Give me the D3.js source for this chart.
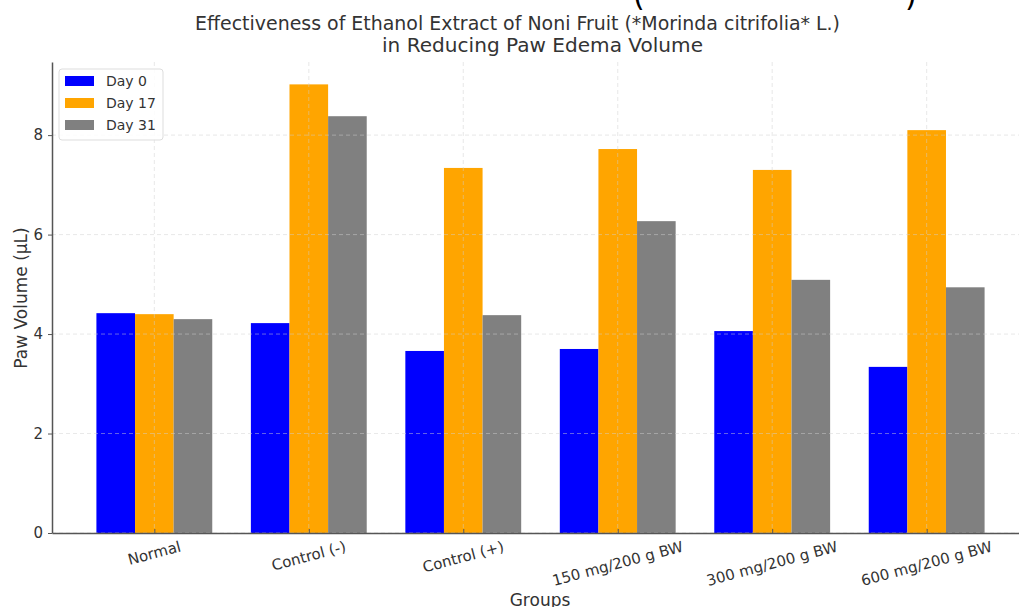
<!DOCTYPE html>
<html><head><meta charset="utf-8">
<script src="https://cdn.jsdelivr.net/npm/d3@7"></script>
<style>body{margin:0;background:#fff}svg{display:block;font-family:"DejaVu Sans",sans-serif}</style>
</head><body><svg id="c" width="1019" height="607"></svg>
<script>
const categories = ["Normal","Control (-)","Control (+)","150 mg/200 g BW","300 mg/200 g BW","600 mg/200 g BW"];
const seriesNames = ["Day 0","Day 17","Day 31"];
const day0 = [4.42,4.22,3.66,3.70,4.06,3.34];
const day17 = [4.40,9.02,7.34,7.72,7.30,8.10];
const day31 = [4.30,8.38,4.38,6.27,5.09,4.94];
const colors = ["#0000ff","#ffa500","#808080"];
const yTicks = [0,2,4,6,8];
const series = [day0, day17, day31];

const svg = d3.select("#c");
const L=52, R=1029, T=62, B=533;
const x = d3.scaleLinear().domain([-0.6625,5.6625]).range([L,R]);
const y = d3.scaleLinear().domain([0,9.47]).range([B,T]);
const bw = 0.25;

// artifact from cropped heading
svg.append("text").attr("x",633).attr("y",6).attr("font-size",30).attr("fill","#000").text("(");
svg.append("text").attr("x",905).attr("y",6).attr("font-size",30).attr("fill","#000").text(")");

// bars
series.forEach((s,k)=>{
  svg.append("g").selectAll("rect").data(s).join("rect")
   .attr("x",(d,i)=>x(i+(k-1.5)*bw)).attr("width",x(bw)-x(0))
   .attr("y",d=>y(d)).attr("height",d=>y(0)-y(d)).attr("fill",colors[k]);
});

// grid
const g = svg.append("g").attr("opacity",0.6);
g.selectAll(".gy").data(yTicks).join("line").attr("x1",L).attr("x2",R)
 .attr("y1",d=>y(d)).attr("y2",d=>y(d)).attr("stroke","#d0d0d0").attr("stroke-dasharray","4,3").attr("stroke-width",0.8);
g.selectAll(".gx").data(categories).join("line").attr("y1",T).attr("y2",B)
 .attr("x1",(d,i)=>x(i)).attr("x2",(d,i)=>x(i)).attr("stroke","#d0d0d0").attr("stroke-dasharray","4,3").attr("stroke-width",0.8);

// axes
const ax = svg.append("g").attr("transform",`translate(0,${B})`)
 .call(d3.axisBottom(x).tickValues(d3.range(categories.length)).tickFormat(i=>"").tickSize(-4).tickSizeOuter(0));
ax.select(".domain").attr("stroke","#555").attr("stroke-width",1.5);
ax.selectAll(".tick line").attr("stroke","#555");
const ang = 15*Math.PI/180, fs = 15;
svg.append("g").selectAll("text").data(categories).join("text")
 .attr("text-anchor","middle").attr("dominant-baseline","central")
 .attr("font-size",fs).attr("fill","#333").text(d=>d)
 .attr("transform",function(d,i){
   const w = this.getComputedTextLength();
   const h = w*Math.sin(ang) + fs*1.0*Math.cos(ang);
   return `translate(${x(i)},${B+6+h/2}) rotate(-15)`;
 });

const ay = svg.append("g").attr("transform",`translate(${L},0)`)
 .call(d3.axisLeft(y).tickValues(yTicks).tickFormat(d3.format("d")).tickSize(4).tickSizeOuter(0));
ay.select(".domain").attr("stroke","#555").attr("stroke-width",1.5);
ay.selectAll(".tick line").attr("stroke","#555");
ay.selectAll(".tick text").attr("font-size",15).attr("fill","#333").attr("font-family","DejaVu Sans").attr("dx",-2);

// labels
svg.append("text").attr("x",540).attr("y",606).attr("text-anchor","middle").attr("font-size",17).attr("fill","#333").text("Groups");
svg.append("text").attr("transform",`translate(27,298) rotate(-90)`).attr("text-anchor","middle").attr("font-size",17).attr("fill","#333").text("Paw Volume (µL)");
svg.append("text").attr("x",195).attr("y",30).attr("font-size",19).attr("textLength",645).attr("lengthAdjust","spacingAndGlyphs").attr("fill","#333").text("Effectiveness of Ethanol Extract of Noni Fruit (*Morinda citrifolia* L.)");
svg.append("text").attr("x",382).attr("y",52).attr("font-size",19).attr("textLength",321).attr("lengthAdjust","spacingAndGlyphs").attr("fill","#333").text("in Reducing Paw Edema Volume");

// legend
const lg = svg.append("g");
lg.append("rect").attr("x",59).attr("y",69).attr("width",104).attr("height",71).attr("rx",3)
 .attr("fill","#fff").attr("fill-opacity",0.85).attr("stroke","#ddd");
seriesNames.forEach((n,k)=>{
  lg.append("rect").attr("x",65).attr("y",76+k*22).attr("width",29).attr("height",10).attr("fill",colors[k]);
  lg.append("text").attr("x",106).attr("y",86+k*22).attr("font-size",14).attr("fill","#333").text(n);
});
</script></body></html>
